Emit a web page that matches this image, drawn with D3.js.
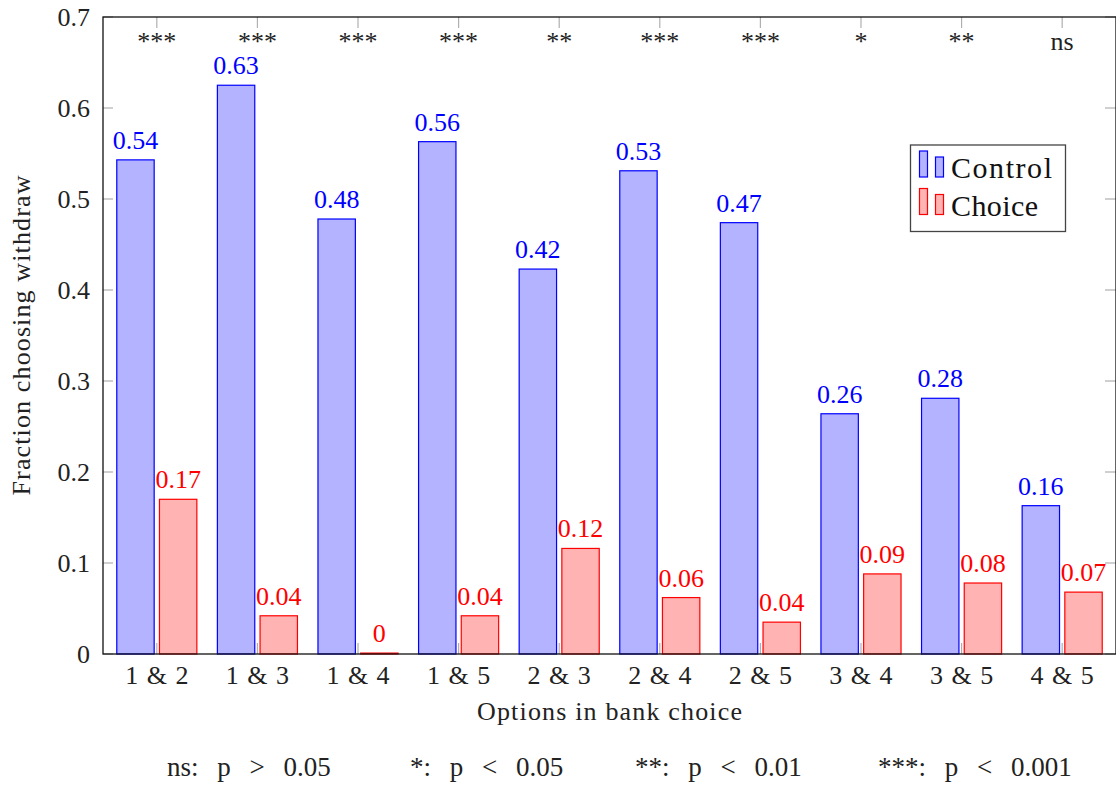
<!DOCTYPE html>
<html>
<head>
<meta charset="utf-8">
<script src="https://cdn.jsdelivr.net/npm/d3@7"></script>
<style>
  html, body { margin: 0; padding: 0; background: #fff; }
  svg { display: block; }
  text { font-family: "Liberation Serif", "Times New Roman", serif; }
</style>
</head>
<body>
<svg id="chart" width="1116" height="785"></svg>
<script>
const categories = ["1 & 2", "1 & 3", "1 & 4", "1 & 5", "2 & 3", "2 & 4", "2 & 5", "3 & 4", "3 & 5", "4 & 5"];
const seriesNames = ["Control", "Choice"];
const controlValues = [0.543, 0.625, 0.478, 0.563, 0.423, 0.531, 0.474, 0.264, 0.281, 0.163];
const choiceValues  = [0.170, 0.042, 0.001, 0.042, 0.116, 0.062, 0.035, 0.088, 0.078, 0.068];
const controlLabels = ["0.54", "0.63", "0.48", "0.56", "0.42", "0.53", "0.47", "0.26", "0.28", "0.16"];
const choiceLabels  = ["0.17", "0.04", "0", "0.04", "0.12", "0.06", "0.04", "0.09", "0.08", "0.07"];
const significance  = ["***", "***", "***", "***", "**", "***", "***", "*", "**", "ns"];
const yTicks = [0, 0.1, 0.2, 0.3, 0.4, 0.5, 0.6, 0.7];
const footnotes = ["ns: p > 0.05", "*: p < 0.05", "**: p < 0.01", "***: p < 0.001"];

const colors = {
  Control: { fill: "#b3b3ff", stroke: "#0000ff", text: "#0000ff" },
  Choice:  { fill: "#ffb3b3", stroke: "#ff0000", text: "#ff0000" }
};

(function () {
const svg = d3.select("#chart");
const pL = 103, pR = 1116, pT = 17, pB = 654;
const FS = 26;

const x = d3.scalePoint().domain(categories).range([pL, pR]).padding(0.535);
const step = x.step();
const xs = d3.scaleBand().domain(seriesNames).range([-0.398 * step, 0.398 * step]).paddingInner(0.124);
const y = d3.scaleLinear().domain([0, 0.7]).range([pB, pT]);

const tickColor = "#b0b0b0";

// ticks (inside, gray)
const gTicks = svg.append("g");
yTicks.forEach(t => {
  gTicks.append("line").attr("x1", pL).attr("x2", pL + 10).attr("y1", y(t)).attr("y2", y(t))
    .attr("stroke", tickColor).attr("stroke-width", 1.2);
  gTicks.append("line").attr("x1", pR - 11).attr("x2", pR).attr("y1", y(t)).attr("y2", y(t))
    .attr("stroke", tickColor).attr("stroke-width", 1.2);
});
categories.forEach(c => {
  gTicks.append("line").attr("x1", x(c)).attr("x2", x(c)).attr("y1", pB).attr("y2", pB - 11)
    .attr("stroke", tickColor).attr("stroke-width", 1.2);
  gTicks.append("line").attr("x1", x(c)).attr("x2", x(c)).attr("y1", pT).attr("y2", pT + 11)
    .attr("stroke", tickColor).attr("stroke-width", 1.2);
});

// bars
const data = categories.map((c, i) => ({
  cat: c,
  vals: [
    { s: "Control", v: controlValues[i], label: controlLabels[i] },
    { s: "Choice", v: choiceValues[i], label: choiceLabels[i] }
  ]
}));

const groups = svg.append("g").selectAll("g").data(data).join("g")
  .attr("transform", d => `translate(${x(d.cat)},0)`);

groups.selectAll("rect").data(d => d.vals).join("rect")
  .attr("x", d => xs(d.s))
  .attr("width", xs.bandwidth())
  .attr("y", d => y(d.v))
  .attr("height", d => y(0) - y(d.v))
  .attr("fill", d => colors[d.s].fill)
  .attr("stroke", d => colors[d.s].stroke)
  .attr("stroke-width", 1.2);

groups.selectAll("text.val").data(d => d.vals).join("text")
  .attr("class", "val")
  .attr("x", d => xs(d.s) + xs.bandwidth() / 2)
  .attr("y", d => y(d.v) - 11)
  .attr("text-anchor", "middle")
  .attr("font-size", FS)
  .attr("fill", d => colors[d.s].text)
  .text(d => d.label);

// frame
svg.append("rect").attr("x", pL).attr("y", pT).attr("width", pR - pL).attr("height", pB - pT)
  .attr("fill", "none").attr("stroke", "#111").attr("stroke-width", 1.3);

// significance markers
svg.append("g").selectAll("text").data(categories).join("text")
  .attr("x", d => x(d)).attr("y", 50)
  .attr("text-anchor", "middle").attr("font-size", FS).attr("fill", "#222")
  .text((d, i) => significance[i]);

// y tick labels
svg.append("g").selectAll("text").data(yTicks).join("text")
  .attr("x", 90).attr("y", d => y(d)).attr("dy", "0.33em")
  .attr("text-anchor", "end").attr("font-size", FS).attr("fill", "#222")
  .text(d => d === 0 ? "0" : d3.format(".1f")(d));

// x tick labels
svg.append("g").selectAll("text").data(categories).join("text")
  .attr("x", d => x(d)).attr("y", 684)
  .attr("text-anchor", "middle").attr("font-size", FS).attr("fill", "#222")
  .style("word-spacing", "2px")
  .text(d => d);

// axis titles
svg.append("text").attr("x", (pL + pR) / 2).attr("y", 720)
  .attr("text-anchor", "middle").attr("font-size", FS).attr("fill", "#222")
  .attr("textLength", 265).attr("lengthAdjust", "spacing")
  .text("Options in bank choice");
svg.append("text").attr("transform", `translate(30,${(pT + pB) / 2}) rotate(-90)`)
  .attr("text-anchor", "middle").attr("font-size", FS).attr("fill", "#222")
  .attr("textLength", 320).attr("lengthAdjust", "spacing")
  .text("Fraction choosing withdraw");

// legend
const lg = svg.append("g");
lg.append("rect").attr("x", 910.5).attr("y", 145).attr("width", 155).attr("height", 86.5)
  .attr("fill", "#fff").attr("stroke", "#444").attr("stroke-width", 1.3);
const legendLen = [101, 87];
seriesNames.forEach((s, i) => {
  const base = 177 + i * 37.5;
  lg.append("rect").attr("x", 919.5).attr("y", base - 26).attr("width", 8).attr("height", 26)
    .attr("fill", colors[s].fill).attr("stroke", colors[s].stroke).attr("stroke-width", 1.2);
  lg.append("rect").attr("x", 935.5).attr("y", base - 20).attr("width", 8).attr("height", 20)
    .attr("fill", colors[s].fill).attr("stroke", colors[s].stroke).attr("stroke-width", 1.2);
  lg.append("text").attr("x", 951).attr("y", base + 1).attr("font-size", 30).attr("fill", "#111")
    .attr("textLength", legendLen[i]).attr("lengthAdjust", "spacing").text(s);
});

// footnote
const footX = [167, 410, 635, 878];
svg.append("g").selectAll("text").data(footnotes).join("text")
  .attr("x", (d, i) => footX[i]).attr("y", 776)
  .attr("font-size", 27).attr("fill", "#222")
  .style("word-spacing", "12px")
  .text(d => d);
})();
</script>
</body>
</html>
